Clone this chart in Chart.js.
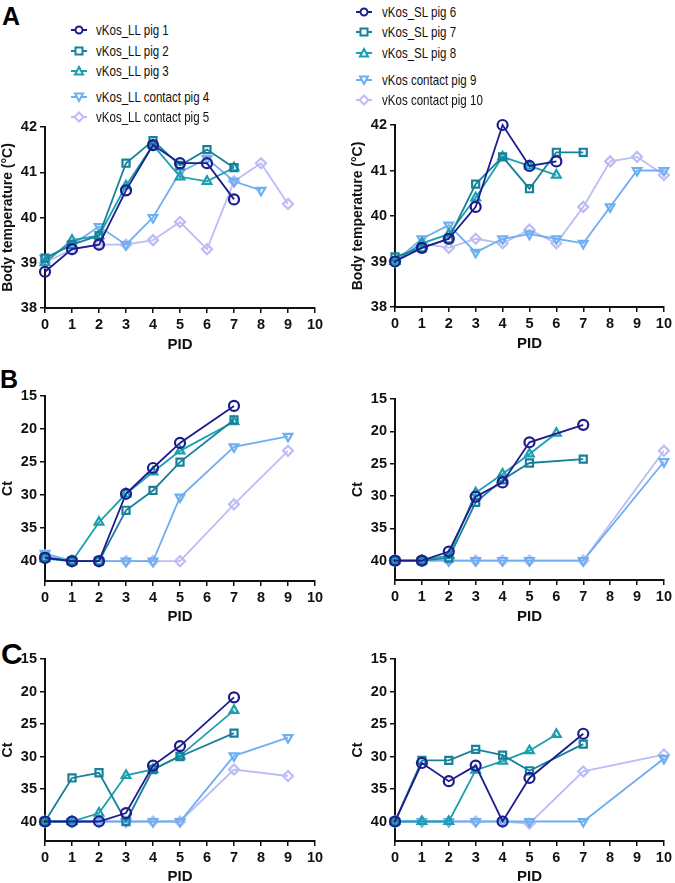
<!DOCTYPE html>
<html>
<head>
<meta charset="utf-8">
<script src="https://cdn.jsdelivr.net/npm/chart.js@4.4.0/dist/chart.umd.min.js"></script>
<style>
  body { margin: 0; background: #fff; width: 675px; height: 883px; position: relative; overflow: hidden;
         font-family: "Liberation Sans", Arial, sans-serif; }
  canvas { position: absolute; }
  .letter { position: absolute; font-weight: bold; color: #000; line-height: 1; }
  .legend-row { position: absolute; height: 20px; white-space: nowrap; z-index: 2; }
  .legend-row svg { position: absolute; top: 4px; }
  .legend-row span { position: absolute; top: 0; font-size: 15px; line-height: 20px; color: #111;
                     transform: scaleX(0.77); transform-origin: left center; }
</style>
</head>
<body>
<div class="letter" style="left:2px;top:4px;font-size:25px;">A</div>
<div class="letter" style="left:0px;top:367px;font-size:25px;">B</div>
<div class="letter" style="left:1px;top:639px;font-size:30px;">C</div>
<div id="legends"></div>

<canvas id="tempLL" width="330" height="244" style="left:0;top:110px;"></canvas>
<canvas id="tempSL" width="325" height="245" style="left:350px;top:108px;"></canvas>
<canvas id="ctBLL" width="330" height="246" style="left:0;top:380px;"></canvas>
<canvas id="ctBSL" width="325" height="243" style="left:350px;top:383px;"></canvas>
<canvas id="ctCLL" width="330" height="240" style="left:0;top:643px;"></canvas>
<canvas id="ctCSL" width="325" height="240" style="left:350px;top:643px;"></canvas>

<script>
// x values (post-infection day)
const pid = [0, 1, 2, 3, 4, 5, 6, 7, 8, 9, 10];
const tempTicks = [38, 39, 40, 41, 42];
const ctTicks = [15, 20, 25, 30, 35, 40];

const labelsLL = ['vKos_LL pig 1', 'vKos_LL pig 2', 'vKos_LL pig 3', 'vKos_LL contact pig 4', 'vKos_LL contact pig 5'];
const labelsSL = ['vKos_SL pig 6', 'vKos_SL pig 7', 'vKos_SL pig 8', 'vKos contact pig 9', 'vKos contact pig 10'];

const seriesColors = ['#1c1c8e', '#17809a', '#1a9fb0', '#6eaff2', '#bcbcf6'];
const pointStyles = ['circle', 'rect', 'triangle', 'triangle', 'rectRot'];
const pointRotations = [0, 0, 0, 180, 0];

// A: body temperature, vKos_LL group
const tempPig1 = [38.8, 39.3, 39.4, 40.6, 41.6, 41.2, 41.2, 40.4, null, null, null];
const tempPig2 = [39.1, 39.4, 39.6, 41.2, 41.7, 41.15, 41.5, 41.1, null, null, null];
const tempPig3 = [39.0, 39.5, 39.6, 40.7, 41.6, 40.9, 40.8, 41.1, null, null, null];
const tempPig4 = [39.1, 39.4, 39.8, 39.4, 40.0, 41.0, 41.3, 40.8, 40.6, null, null];
const tempPig5 = [39.0, 39.3, 39.4, 39.4, 39.5, 39.9, 39.3, 40.8, 41.2, 40.3, null];

// A: body temperature, vKos_SL group
const tempPig6 = [39.0, 39.3, 39.5, 40.2, 42.0, 41.1, 41.2, null, null, null, null];
const tempPig7 = [39.1, 39.3, 39.5, 40.7, 41.3, 40.6, 41.4, 41.4, null, null, null];
const tempPig8 = [39.0, 39.4, 39.6, 40.4, 41.3, 41.1, 40.9, null, null, null, null];
const tempPig9 = [39.0, 39.5, 39.8, 39.2, 39.5, 39.6, 39.5, 39.4, 40.2, 41.0, 41.0];
const tempPig10 = [39.0, 39.4, 39.3, 39.5, 39.4, 39.7, 39.4, 40.2, 41.2, 41.3, 40.9];

// B: Ct values, vKos_LL group
const ctBPig1 = [39.5, 40, 40, 29.8, 25.9, 22.1, null, 16.5, null, null, null];
const ctBPig2 = [39.4, 40, 40, 32.3, 29.3, 25.0, null, 18.6, null, null, null];
const ctBPig3 = [39.6, 40, 34.1, 29.8, 26.5, 23.3, null, 18.9, null, null, null];
const ctBPig4 = [38.8, 40, 40, 40, 40, 30.3, null, 22.7, null, 21.1, null];
const ctBPig5 = [39.1, 40, 40, 40, 40, 40, null, 31.4, null, 23.3, null];

// B: Ct values, vKos_SL group
const ctBPig6 = [40, 40, 38.6, 30.1, 27.9, 21.7, null, 19.0, null, null, null];
const ctBPig7 = [40, 40, 39.6, 31.0, 27.5, 24.9, null, 24.3, null, null, null];
const ctBPig8 = [40, 40, 39.2, 29.5, 26.6, 23.5, 20.3, null, null, null, null];
const ctBPig9 = [40, 40, 40, 40, 40, 40, null, 40, null, null, 24.7];
const ctBPig10 = [40, 40, 40, 40, 40, 40, null, 40, null, null, 23.0];

// C: Ct values, vKos_LL group
const ctCPig1 = [40, 40, 40, 38.7, 31.4, 28.4, null, 20.9, null, null, null];
const ctCPig2 = [40, 33.3, 32.5, 40, 32.0, 30.0, null, 26.4, null, null, null];
const ctCPig3 = [40, 40, 38.7, 32.9, 32.0, 29.9, null, 22.9, null, null, null];
const ctCPig4 = [40, 40, 40, 40, 40, 40, null, 29.9, null, 27.1, null];
const ctCPig5 = [40, 40, 40, 40, 40, 40, null, 32.0, null, 33.0, null];

// C: Ct values, vKos_SL group
const ctCPig6 = [40, 31.0, 33.8, 31.4, 40, 33.3, null, 26.5, null, null, null];
const ctCPig7 = [40, 30.6, 30.6, 28.9, 29.8, 32.2, null, 28.1, null, null, null];
const ctCPig8 = [40, 40, 40, 32.1, 30.7, 29.1, 26.6, null, null, null, null];
const ctCPig9 = [40, 40, 40, 40, 40, 40, null, 40, null, null, 30.3];
const ctCPig10 = [40, 40, 40, 40, 40, 40.3, null, 32.3, null, null, 29.7];

const axisColor = '#111';
const tickFont = { family: '"Liberation Sans", Arial, sans-serif', size: 14.5, weight: 'bold' };
const titleFont = { family: '"Liberation Sans", Arial, sans-serif', size: 14, weight: 'bold' };
const pidFont = { family: '"Liberation Sans", Arial, sans-serif', size: 15, weight: 'bold' };

function buildDatasets(seriesList, labels) {
    return seriesList.map((vals, i) => ({
        label: labels[i],
        data: pid.map((x, k) => ({ x: x, y: vals[k] })).filter(p => p.y !== null),
        borderColor: seriesColors[i],
        backgroundColor: 'rgba(255,255,255,0)',
        borderWidth: 1.8,
        pointStyle: pointStyles[i],
        rotation: pointRotations[i],
        pointRadius: 5,
        pointBorderWidth: 2.2,
        pointBackgroundColor: 'rgba(255,255,255,0)',
        pointBorderColor: seriesColors[i],
        tension: 0,
        clip: false
    }));
}

function makeChart(id, seriesList, labels, cfg) {
    const ctx = document.getElementById(id).getContext('2d');
    return new Chart(ctx, {
        type: 'line',
        data: { datasets: buildDatasets(seriesList, labels) },
        options: {
            responsive: false,
            animation: false,
            events: [],
            layout: { padding: { top: cfg.padTop, right: cfg.padRight, left: 0, bottom: 0 } },
            plugins: { legend: { display: false }, tooltip: { enabled: false } },
            scales: {
                x: {
                    type: 'linear',
                    min: 0,
                    max: 10,
                    ticks: { stepSize: 1, color: axisColor, font: tickFont, padding: 3, maxRotation: 0, autoSkip: false },
                    grid: { drawOnChartArea: false, drawTicks: true, tickLength: 5, color: axisColor, lineWidth: 1.5 },
                    border: { display: true, color: axisColor, width: 2 },
                    title: { display: true, text: 'PID', color: axisColor, font: pidFont, padding: { top: 0, bottom: cfg.pidPad || 0 } },
                    afterFit: s => { s.height = cfg.xHeight; }
                },
                y: {
                    type: 'linear',
                    min: cfg.yMin,
                    max: cfg.yMax,
                    reverse: cfg.reverse,
                    afterBuildTicks: s => { s.ticks = cfg.yTicks.map(v => ({ value: v })); },
                    ticks: { color: axisColor, font: tickFont, padding: 3 },
                    grid: { drawOnChartArea: false, drawTicks: true, tickLength: 5, color: axisColor, lineWidth: 1.5 },
                    border: { display: true, color: axisColor, width: 2 },
                    title: { display: true, text: cfg.yTitle, color: axisColor, font: titleFont, padding: 0 },
                    afterFit: s => { s.width = 45; }
                }
            }
        }
    });
}

const tempCfg = { yMin: 38, yMax: 42, reverse: false, yTicks: tempTicks, yTitle: 'Body temperature (°C)', xHeight: 46 };
const ctCfg = { yMin: 15, yMax: 43, reverse: true, yTicks: ctTicks, yTitle: 'Ct' };

makeChart('tempLL', [tempPig1, tempPig2, tempPig3, tempPig4, tempPig5], labelsLL,
    Object.assign({}, tempCfg, { padTop: 17, padRight: 15 }));
makeChart('tempSL', [tempPig6, tempPig7, tempPig8, tempPig9, tempPig10], labelsSL,
    Object.assign({}, tempCfg, { padTop: 17, padRight: 7 }));
makeChart('ctBLL', [ctBPig1, ctBPig2, ctBPig3, ctBPig4, ctBPig5], labelsLL,
    Object.assign({}, ctCfg, { padTop: 16, padRight: 15, xHeight: 45 }));
makeChart('ctBSL', [ctBPig6, ctBPig7, ctBPig8, ctBPig9, ctBPig10], labelsSL,
    Object.assign({}, ctCfg, { padTop: 16, padRight: 7, xHeight: 46 }));
makeChart('ctCLL', [ctCPig1, ctCPig2, ctCPig3, ctCPig4, ctCPig5], labelsLL,
    Object.assign({}, ctCfg, { padTop: 16, padRight: 15, xHeight: 42, pidPad: -3 }));
makeChart('ctCSL', [ctCPig6, ctCPig7, ctCPig8, ctCPig9, ctCPig10], labelsSL,
    Object.assign({}, ctCfg, { padTop: 16, padRight: 7, xHeight: 42, pidPad: -3 }));

// Legends (HTML, marker drawn as small svg)
function markerSvg(i) {
    const c = seriesColors[i];
    let shape = '';
    if (pointStyles[i] === 'circle') shape = `<circle cx="8" cy="6" r="3.5"/>`;
    else if (pointStyles[i] === 'rect') shape = `<rect x="4.5" y="2.5" width="7" height="7"/>`;
    else if (pointStyles[i] === 'rectRot') shape = `<polygon points="8,1.5 12.5,6 8,10.5 3.5,6"/>`;
    else if (pointRotations[i] === 180) shape = `<polygon points="4,2.5 12,2.5 8,10"/>`;
    else shape = `<polygon points="8,2 12,9.5 4,9.5"/>`;
    return `<svg width="16" height="12"><line x1="0" y1="6" x2="16" y2="6" stroke="${c}" stroke-width="2"/>` +
        `<g fill="#fff" stroke="${c}" stroke-width="2">${shape}</g></svg>`;
}

function addLegend(labels, markerX, textX, rowYs) {
    const box = document.getElementById('legends');
    labels.forEach((text, i) => {
        const row = document.createElement('div');
        row.className = 'legend-row';
        row.style.left = '0px';
        row.style.top = (rowYs[i] - 10) + 'px';
        row.innerHTML = `<div style="position:absolute;left:${markerX - 8}px;">${markerSvg(i)}</div>` +
            `<span style="left:${textX}px;">${text}</span>`;
        box.appendChild(row);
    });
}

addLegend(labelsLL, 79, 96, [30, 51, 71, 97, 117]);
addLegend(labelsSL, 364, 382, [12, 32, 53, 80, 100]);
</script>
</body>
</html>
